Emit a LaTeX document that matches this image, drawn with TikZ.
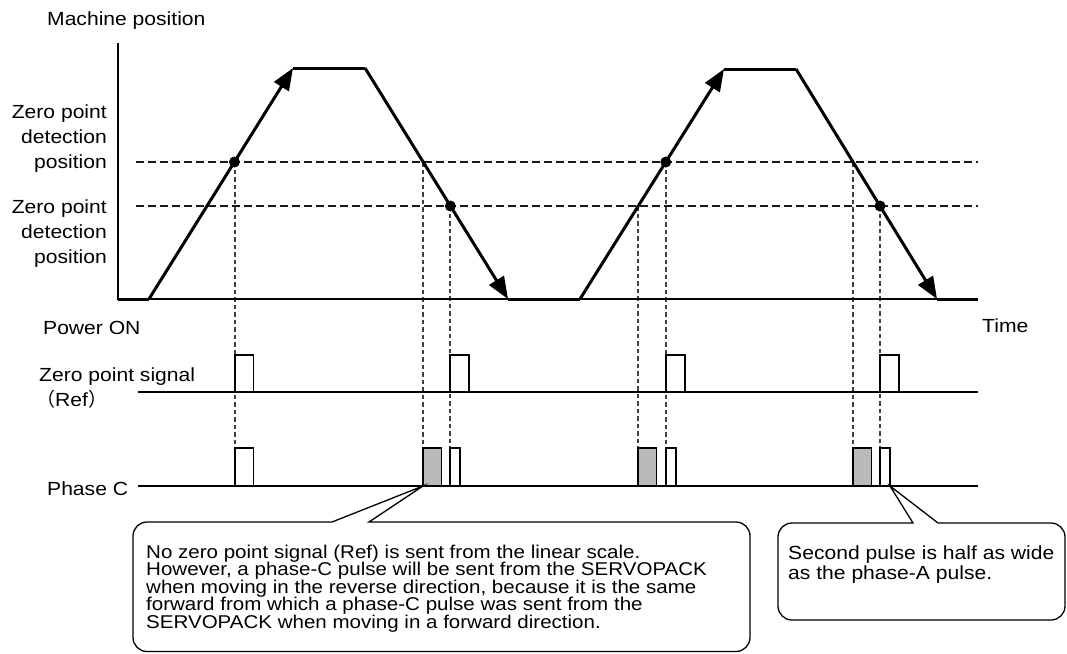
\documentclass[tikz,border=0pt]{standalone}
\usepackage{fontspec}
\setmainfont{Liberation Sans}[FakeStretch=1.11]
\newfontfamily\cjkfont{Noto Sans CJK SC}
\usetikzlibrary{arrows.meta}
\begin{document}
\begin{tikzpicture}[x=1pt,y=-1pt,
  lab/.style={inner sep=0pt, font=\fontsize{19}{23}\selectfont},
  axisline/.style={line width=1.4pt},
  curve/.style={line width=3pt, line cap=butt, line join=miter},
  arr/.style={curve, -{Triangle[length=22pt,width=17pt]}},
  hdash/.style={line width=1.2pt, dash pattern=on 8pt off 4pt, black!90},
  vdash/.style={line width=1.2pt, dash pattern=on 4.5pt off 3pt, black!75},
  pulse/.style={draw, line width=1.3pt, fill=white},
  gpulse/.style={pulse, fill=black!27},
  balloon/.style={draw, line width=1.3pt, fill=white, line join=miter},
  dot/.style={circle, fill=black, inner sep=0pt, minimum size=11pt}]
\useasboundingbox (0,0) rectangle (1067,653);

% ---- coordinates
\coordinate (O) at (118,299);
\coordinate (Ytop) at (118,43);
\coordinate (Tend) at (978,299);
\coordinate (p0) at (149,299);
\coordinate (p1) at (293,68);
\coordinate (p2) at (365,68);
\coordinate (p3) at (508,299);
\coordinate (p4) at (580,299);
\coordinate (p5) at (724,69);
\coordinate (p6) at (796,69);
\coordinate (p7) at (937,299);

% ---- horizontal dashed levels
\coordinate (h1s) at (136,162); \coordinate (h1e) at (978,162);
\coordinate (h2s) at (136,206); \coordinate (h2e) at (978,206);
\draw[hdash] (h1s) -- (h1e);
\draw[hdash] (h2s) -- (h2e);

% ---- vertical dashed lines
\foreach \x/\y in {235/162, 423/162, 450/206, 638/206, 666/162, 853/162, 880/206}{
  \draw[vdash] (\x,\y) -- (\x,448);
}

% ---- axes
\draw[axisline] (Ytop) -- (O) -- (Tend);

% ---- machine position curve
\draw[curve] (O) -- (p0);
\draw[arr] (p0) -- (p1);
\draw[curve] (p1) -- (p2);
\draw[arr] (p2) -- (p3);
\draw[curve] (p3) -- (p4);
\draw[arr] (p4) -- (p5);
\draw[curve] (p5) -- (p6);
\draw[arr] (p6) -- (p7);
\draw[curve] (p7) -- (Tend);

% ---- detection dots
\node[dot] (d1) at (234.5,162) {};
\node[dot] (d2) at (450.4,206) {};
\node[dot] (d3) at (665.8,162) {};
\node[dot] (d4) at (880,206) {};

% ---- zero point signal (Ref)
\coordinate (r0) at (138,392); \coordinate (r1) at (978,392);
\draw[axisline] (r0) -- (r1);
\foreach \a/\b in {235/253.5, 450/469, 666/685, 880/899}{
  \draw[pulse] (\a,355) rectangle (\b,392);
}

% ---- phase C
\coordinate (c0) at (138,486); \coordinate (c1) at (978,486);
\draw[axisline] (c0) -- (c1);
\draw[pulse] (235,448) rectangle (253.5,486);
\draw[gpulse] (423,448) rectangle (441.5,486);
\draw[pulse] (450,448) rectangle (460,486);
\draw[gpulse] (638,448) rectangle (656.5,486);
\draw[pulse] (666,448) rectangle (676,486);
\draw[gpulse] (853,448) rectangle (871.5,486);
\draw[pulse] (880,448) rectangle (890,486);

% ---- labels
\node[lab, anchor=base west] (mpos) at (47,25) {Machine position};
\node[lab, anchor=north east, align=right, font=\fontsize{19}{25}\selectfont] (zp1) at (107,104.4) {Zero point\\detection\\position};
\node[lab, anchor=north east, align=right, font=\fontsize{19}{25}\selectfont] (zp2) at (107,199.4) {Zero point\\detection\\position};
\node[lab, anchor=base west] (pon) at (43,334) {Power ON};
\node[lab, anchor=base west] (time) at (982,332) {Time};
\node[lab, anchor=base west] (zps) at (39,381) {Zero point signal};
\node[lab, anchor=base west] (ref) at (36,406) {{\cjkfont （}Ref{\cjkfont ）}};
\node[lab, anchor=base west] (phc) at (47,495) {Phase C};

% ---- callout 1
\coordinate (t1) at (423,486);
\draw[balloon] (369,522) -- (736,522) arc[start angle=-90, end angle=0, radius=14]
  -- (750,637.5) arc[start angle=0, end angle=90, radius=14]
  -- (147,651.5) arc[start angle=90, end angle=180, radius=14]
  -- (133,536) arc[start angle=180, end angle=270, radius=14]
  -- (332,522) -- (t1) -- cycle;
\node[lab, anchor=north west, align=left, font=\fontsize{18.5}{17.5}\selectfont] (note1) at (146,544.5)
  {No zero point signal (Ref) is sent from the linear scale.\\
   However, a phase-C pulse will be sent from the SERVOPACK\\
   when moving in the reverse direction, because it is the same\\
   forward from which a phase-C pulse was sent from the\\
   SERVOPACK when moving in a forward direction.};

% ---- callout 2
\coordinate (t2) at (890,486);
\draw[balloon] (938,523) -- (1051,523) arc[start angle=-90, end angle=0, radius=14]
  -- (1065,606) arc[start angle=0, end angle=90, radius=14]
  -- (792,620) arc[start angle=90, end angle=180, radius=14]
  -- (778,537) arc[start angle=180, end angle=270, radius=14]
  -- (913,523) -- (t2) -- cycle;
\node[lab, anchor=north west, align=left, font=\fontsize{19}{20}\selectfont] (note2) at (788,546)
  {Second pulse is half as wide\\as the phase-A pulse.};
\end{tikzpicture}
\end{document}
